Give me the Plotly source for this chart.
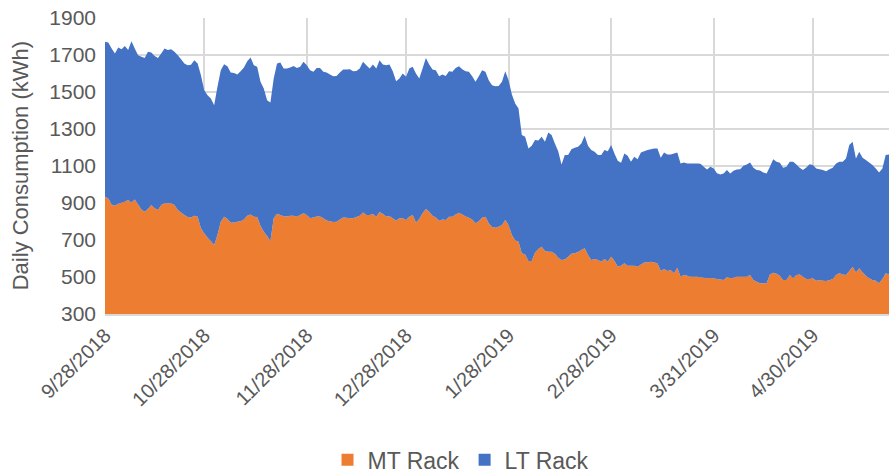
import numpy as np
import pandas as pd
import plotly.graph_objects as go

START_DATE = "2018-09-28"

# MT Rack daily consumption (kWh), one value per day
MT_RACK = [
    934, 925, 892, 885, 896, 901, 907, 916, 903, 919, 892, 865, 853, 867, 889, 871, 862, 889, 899, 898,
    899, 889, 862, 849, 835, 824, 822, 831, 826, 763, 736,
    712, 694, 673, 727, 799, 826, 813, 793, 795, 799, 802, 811, 831, 838, 826, 824, 777, 745, 721, 694,
    817, 842, 835, 829, 827, 831, 831, 826, 835,
    844, 835, 817, 822, 827, 827, 817, 806, 802, 797, 799, 811, 822, 820, 818, 818, 824, 831, 849, 835,
    835, 840, 826, 852, 840, 827, 829, 817, 804, 817,
    817, 808, 826, 835, 795, 813, 844, 867, 853, 831, 822, 804, 811, 808, 826, 826, 838, 847, 838, 827,
    820, 811, 791, 802, 820, 826, 790, 770, 766,
    772, 781, 808, 781, 727, 698, 691, 628, 622, 586, 586, 633, 651, 664, 640, 637, 637, 626, 604, 592,
    595, 610, 626, 628, 635, 646, 655, 619, 592, 597,
    592, 583, 597, 583, 611, 586, 557, 561, 574, 561, 561, 561, 556, 568, 579, 579, 583, 579, 574, 532,
    543, 532, 538, 520, 550, 502, 511, 507, 502, 502,
    502, 498, 496, 493, 494, 493, 489, 487, 484, 500, 493, 496, 502, 502, 502, 502, 511, 484, 475, 466,
    466, 466, 514, 523, 518, 507, 484, 484, 511,
    493, 511, 514, 502, 489, 489, 493, 480, 484, 480, 478, 482, 489, 511, 520, 514, 511, 532, 556, 525,
    547, 525, 507, 493, 484, 480, 466, 489, 520, 514,
]

# Top of the stack (MT + LT), one value per day
TOTAL = [
    1771, 1767, 1735, 1708, 1740, 1731, 1749, 1727, 1774, 1735, 1699, 1690, 1684, 1717, 1713, 1695, 1684,
    1708, 1735, 1727, 1731, 1717, 1699, 1677, 1654, 1645, 1647, 1672, 1654, 1591, 1510,
    1483, 1465, 1429, 1528, 1618, 1650, 1639, 1605, 1603, 1594, 1612, 1632, 1666, 1686, 1645, 1636, 1555,
    1519, 1456, 1443, 1573, 1654, 1659, 1627, 1627, 1632, 1641, 1630, 1636,
    1663, 1645, 1618, 1609, 1630, 1630, 1609, 1605, 1594, 1585, 1587, 1605, 1621, 1621, 1623, 1612, 1614,
    1627, 1663, 1645, 1627, 1648, 1627, 1672, 1648, 1645, 1648, 1612, 1558, 1573,
    1600, 1582, 1627, 1636, 1600, 1573, 1627, 1684, 1648, 1621, 1618, 1585, 1594, 1587, 1612, 1609, 1630,
    1639, 1623, 1612, 1609, 1585, 1555, 1585, 1618, 1609, 1564, 1537, 1531,
    1533, 1555, 1612, 1564, 1486, 1438, 1411, 1267, 1258, 1195, 1209, 1241, 1238, 1258, 1231, 1281, 1267,
    1222, 1180, 1108, 1159, 1159, 1191, 1198, 1204, 1222, 1263, 1209, 1186, 1177,
    1159, 1159, 1186, 1180, 1213, 1168, 1128, 1117, 1168, 1155, 1123, 1150, 1137, 1173, 1180, 1186, 1191,
    1195, 1195, 1144, 1173, 1162, 1162, 1168, 1173, 1114, 1119, 1114, 1114, 1114,
    1114, 1112, 1096, 1081, 1096, 1087, 1061, 1054, 1060, 1078, 1060, 1074, 1081, 1083, 1101, 1108, 1119,
    1090, 1078, 1076, 1065, 1060, 1096, 1137, 1123, 1117, 1090, 1096, 1123,
    1123, 1108, 1090, 1079, 1092, 1110, 1105, 1087, 1083, 1079, 1072, 1083, 1090, 1114, 1123, 1123, 1141,
    1213, 1231, 1141, 1177, 1144, 1132, 1119, 1105, 1087, 1065, 1087, 1159, 1162,
]

TICK_DATES = ["2018-09-28", "2018-10-28", "2018-11-28", "2018-12-28",
              "2019-01-28", "2019-02-28", "2019-03-31", "2019-04-30"]
TICK_LABELS = ["9/28/2018", "10/28/2018", "11/28/2018", "12/28/2018",
               "1/28/2019", "2/28/2019", "3/31/2019", "4/30/2019"]

assert len(MT_RACK) == len(TOTAL)
dates = pd.date_range(START_DATE, periods=len(MT_RACK), freq="D")
mt = np.array(MT_RACK, dtype=float)
LT_RACK = np.array(TOTAL, dtype=float) - mt

ORANGE = "#ED7D31"
BLUE = "#4472C4"
GRID = "#D9D9D9"
TEXT = "#595959"

fig = go.Figure()
fig.add_trace(go.Scatter(x=dates, y=mt, name="MT Rack", stackgroup="one", mode="none",
                         fillcolor=ORANGE, line=dict(width=0), showlegend=False))
fig.add_trace(go.Scatter(x=dates, y=LT_RACK, name="LT Rack", stackgroup="one", mode="none",
                         fillcolor=BLUE, line=dict(width=0), showlegend=False))
# legend entries drawn as square swatches, like the original
for name, col in [("MT Rack", ORANGE), ("LT Rack", BLUE)]:
    fig.add_trace(go.Scatter(x=[None], y=[None], name=name, mode="markers",
                             marker=dict(symbol="square", size=12, color=col)))

fig.update_layout(
    width=890, height=474,
    margin=dict(l=105, r=1, t=18, b=160),
    paper_bgcolor="white", plot_bgcolor="white",
    font=dict(family="Liberation Sans, Arial, sans-serif", color=TEXT, size=21),
    showlegend=True,
    legend=dict(orientation="h", xref="container", yref="container",
                x=0.518, xanchor="center", y=0.03, yanchor="middle",
                traceorder="normal", font=dict(size=23), itemwidth=30, tracegroupgap=0),
    xaxis=dict(type="date", range=[dates[0], dates[-1]], automargin=False,
               tickmode="array", tickvals=TICK_DATES, ticktext=TICK_LABELS,
               tickangle=-45, tickfont=dict(size=20),
               showgrid=True, gridcolor=GRID, gridwidth=1.5,
               showline=True, linecolor=GRID, linewidth=1.5,
               ticks="", zeroline=False),
    yaxis=dict(range=[300, 1900], tickmode="linear", tick0=300, dtick=200, automargin=False,
               tickfont=dict(size=21), ticklabelstandoff=8,
               showgrid=True, gridcolor=GRID, gridwidth=1.5,
               ticks="", zeroline=False, showline=False),
    annotations=[dict(text="Daily Consumption (kWh)", xref="paper", yref="paper",
                      x=-0.108, y=0.5, xanchor="center", yanchor="middle",
                      textangle=-90, showarrow=False, font=dict(size=22, color=TEXT))],
)

fig.write_html("out.html", config={"displayModeBar": False},
               post_script="document.body.style.margin='0';document.body.style.overflow='hidden';")
